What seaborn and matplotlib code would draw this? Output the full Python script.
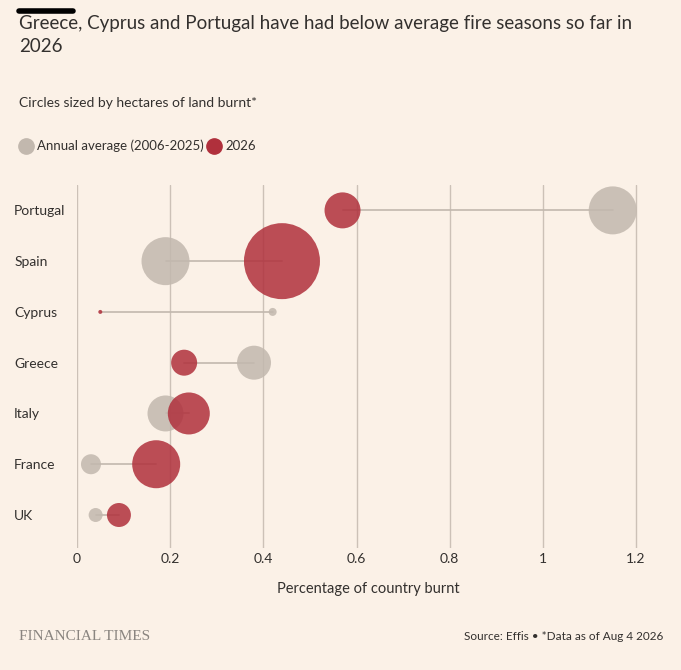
import matplotlib
matplotlib.use("Agg")
import matplotlib.pyplot as plt
import seaborn as sns
import pandas as pd

countries = ["Portugal", "Spain", "Cyprus", "Greece", "Italy", "France", "UK"]
avg_pct = [1.15, 0.19, 0.42, 0.38, 0.19, 0.03, 0.04]
pct_2026 = [0.57, 0.44, 0.05, 0.23, 0.24, 0.17, 0.09]
avg_ha = [57600, 57600, 1600, 28900, 32400, 10000, 4900]
ha_2026 = [32400, 144400, 400, 16900, 44100, 57600, 14400]

BG = "#fbf1e7"
GREY = "#c2b8ae"
RED = "#b0303c"

sns.set_theme(style="white")
plt.rcParams["font.family"] = ["Lato", "DejaVu Sans"]

fig = plt.figure(figsize=(6.81, 6.70), dpi=100, facecolor=BG)
axw = (636-77)/1.2*1.25/681
ax = fig.add_axes([77/681, 1-548/670, axw, (548-185)/670])
ax.set_facecolor(BG)

df = pd.DataFrame({"country": countries * 2,
                   "pct": avg_pct + pct_2026,
                   "ha": avg_ha + ha_2026,
                   "series": ["avg"] * 7 + ["2026"] * 7})
df["y"] = df["country"].map({c: i for i, c in enumerate(countries)})

for i, c in enumerate(countries):
    ax.plot([avg_pct[i], pct_2026[i]], [i, i], color=GREY, lw=1.2, zorder=1)

maxr = 38 * 1.44
smax = maxr ** 2
sns.scatterplot(data=df, x="pct", y="y", hue="series", size="ha",
                palette={"avg": GREY, "2026": RED}, sizes=(0, smax),
                size_norm=(0, 144400), alpha=0.85, linewidth=0,
                legend=False, ax=ax, zorder=3)

ax.set_xlim(0, 1.25)
ax.set_ylim(6.65, -0.5)
ax.set_yticks(range(7))
ax.set_yticklabels(countries, fontsize=10, color="#33302e")
ax.set_xticks([0, 0.2, 0.4, 0.6, 0.8, 1.0, 1.2])
ax.set_xticklabels(["0", "0.2", "0.4", "0.6", "0.8", "1", "1.2"], fontsize=10, color="#33302e")
ax.xaxis.grid(True, color="#ccc1b7", lw=1)
ax.set_axisbelow(True)
for s in ax.spines.values():
    s.set_visible(False)
ax.tick_params(length=0)
ax.set_xlabel("Percentage of country burnt", fontsize=10.5, color="#33302e", labelpad=12)
ax.set_ylabel("")
for lab in ax.get_yticklabels():
    lab.set_horizontalalignment("left")
    lab.set_x(-58/(axw*681))

fig.add_artist(plt.Line2D([19/681, 73/681], [1-11/670]*2, color="black", lw=4))
fig.text(19/681, 1-35/670, "Greece, Cyprus and Portugal have had below average fire seasons so far in\n2026",
         fontsize=13.5, color="#33302e", va="center", linespacing=1.5)
fig.text(19/681, 1-103/670, "Circles sized by hectares of land burnt*", fontsize=10, color="#33302e", va="center")
fig.add_artist(plt.Line2D([26/681], [1-146/670], marker="o", ms=11, color=GREY, lw=0))
fig.text(37/681, 1-146/670, "Annual average (2006-2025)", fontsize=9.5, color="#33302e", va="center")
fig.add_artist(plt.Line2D([214/681], [1-146/670], marker="o", ms=11, color=RED, lw=0))
fig.text(225/681, 1-146/670, "2026", fontsize=9.5, color="#33302e", va="center")
fig.text(19/681, 1-637/670, "FINANCIAL TIMES", fontsize=11, family=["Liberation Serif"], color="#8a8580", va="center")
fig.text(663/681, 1-637/670, "Source: Effis • *Data as of Aug 4 2026", fontsize=8.5, color="#33302e", va="center", ha="right")

fig.savefig("out.png", dpi=100, facecolor=BG)
